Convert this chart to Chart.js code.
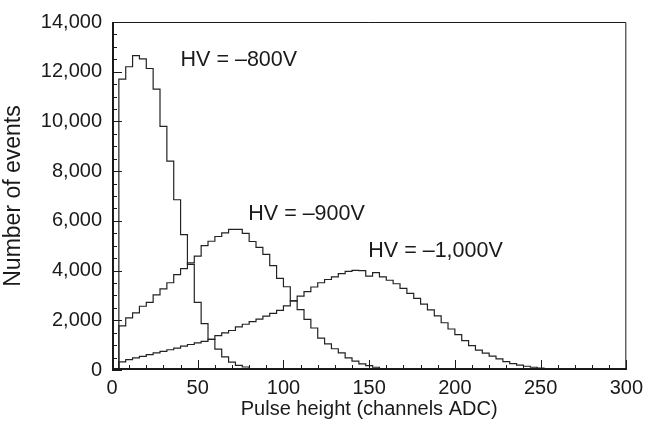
<!DOCTYPE html>
<html>
<head>
<meta charset="utf-8">
<script src="https://cdn.jsdelivr.net/npm/chart.js@4"></script>
<style>
  html, body { margin: 0; padding: 0; background: #fff; }
  #wrap { width: 649px; height: 431px; }
</style>
</head>
<body>
<div id="wrap"><canvas id="myChart"></canvas></div>
<script>
// lower edge of each 4-channel bin
var binLow = [4, 8, 12, 16, 20, 24, 28, 32, 36, 40, 44, 48, 52, 56, 60, 64, 68, 72, 76, 80,
  84, 88, 92, 96, 100, 104, 108, 112, 116, 120, 124, 128, 132, 136, 140, 144, 148, 152, 156, 160,
  164, 168, 172, 176, 180, 184, 188, 192, 196, 200, 204, 208, 212, 216, 220, 224, 228, 232, 236, 240,
  244, 248, 252, 256, 260, 264, 268, 272];
var binWidth = 4;

var hv800 = [11700, 12200, 12650, 12520, 12130, 11300, 9800, 8400, 6850, 5450,
  4250, 2720, 1865, 1230, 840, 525, 320, 190, 120, 60,
  30, 15, 5, 0, 0, 0, 0, 0, 0, 0,
  0, 0, 0, 0, 0, 0, 0, 0, 0, 0,
  0, 0, 0, 0, 0, 0, 0, 0, 0, 0,
  0, 0, 0, 0, 0, 0, 0, 0, 0, 0,
  0, 0, 0, 0, 0, 0, 0, 0];

var hv900 = [1775, 2100, 2300, 2565, 2720, 3025, 3260, 3510, 3840, 4075,
  4310, 4580, 5000, 5180, 5370, 5520, 5660, 5660, 5500, 5170,
  4930, 4650, 4200, 3690, 3350, 2780, 2430, 2040, 1690, 1280,
  1050, 855, 690, 490, 360, 250, 175, 110, 60, 35,
  20, 10, 5, 0, 0, 0, 0, 0, 0, 0,
  0, 0, 0, 0, 0, 0, 0, 0, 0, 0,
  0, 0, 0, 0, 0, 0, 0, 0];

var hv1000 = [330, 420, 490, 550, 620, 685, 750, 815, 880, 960,
  1025, 1090, 1150, 1230, 1380, 1490, 1590, 1735, 1840, 1950,
  2050, 2170, 2280, 2400, 2580, 2780, 2970, 3150, 3340, 3510,
  3640, 3745, 3880, 3970, 4010, 4000, 3775, 3920, 3750, 3610,
  3470, 3285, 3080, 2880, 2650, 2420, 2180, 1900, 1650, 1420,
  1180, 980, 800, 680, 560, 450, 340, 260, 200, 150,
  110, 80, 55, 40, 25, 15, 8, 4];

var seriesLabels = ['HV = \u2013800V', 'HV = \u2013900V', 'HV = \u20131,000V'];

var xTicks = { min: 0, max: 300, step: 50, minor: 10 };
var yTicks = { min: 0, max: 14000, step: 2000, minor: 500 };

// where the curve labels sit, in data units (left edge, vertical middle)
var notes = [
  { text: seriesLabels[0], x: 40, y: 12480 },
  { text: seriesLabels[1], x: 79.5, y: 6280 },
  { text: seriesLabels[2], x: 149.5, y: 4780 }
];

var FONT = '"Liberation Sans", Arial, Helvetica, sans-serif';
var INK = '#1a1a1a';

// outline of a histogram: up at the first edge, flat across each bin, down at the end
function histogram(counts) {
  var pts = [{ x: binLow[0], y: 0 }];
  for (var i = 0; i < counts.length; i++) {
    pts.push({ x: binLow[i], y: counts[i] });
    pts.push({ x: binLow[i] + binWidth, y: counts[i] });
  }
  pts.push({ x: binLow[binLow.length - 1] + binWidth, y: 0 });
  return pts;
}

function lineDs(label, counts) {
  return {
    label: label,
    data: histogram(counts),
    borderColor: '#222',
    borderWidth: 1.2,
    pointRadius: 0,
    fill: false,
    tension: 0
  };
}

// frame, inward tick marks (major + minor) and the curve labels
var frame = {
  id: 'frame',
  afterDatasetsDraw: function (chart) {
    var ctx = chart.ctx, a = chart.chartArea, sx = chart.scales.x, sy = chart.scales.y;
    ctx.save();
    ctx.strokeStyle = INK;
    ctx.lineWidth = 1;
    ctx.beginPath();
    for (var v = xTicks.min; v <= xTicks.max; v += xTicks.minor) {
      var px = Math.round(sx.getPixelForValue(v)) + 0.5;
      var len = v % xTicks.step === 0 ? 10 : 5;
      ctx.moveTo(px, a.bottom);
      ctx.lineTo(px, a.bottom - len);
    }
    for (var w = yTicks.min; w <= yTicks.max; w += yTicks.minor) {
      var py = Math.round(sy.getPixelForValue(w)) + 0.5;
      var l2 = w % yTicks.step === 0 ? 10 : 5;
      ctx.moveTo(a.left, py);
      ctx.lineTo(a.left + l2, py);
    }
    ctx.stroke();

    ctx.lineWidth = 1;
    ctx.beginPath();
    ctx.moveTo(a.left, a.top + 0.5);
    ctx.lineTo(a.right - 0.5, a.top + 0.5);
    ctx.lineTo(a.right - 0.5, a.bottom);
    ctx.stroke();

    ctx.lineWidth = 2;
    ctx.beginPath();
    ctx.moveTo(a.left + 1, a.top);
    ctx.lineTo(a.left + 1, a.bottom - 1);
    ctx.lineTo(a.right, a.bottom - 1);
    ctx.stroke();

    ctx.fillStyle = INK;
    ctx.font = '21.5px ' + FONT;
    ctx.textBaseline = 'middle';
    ctx.textAlign = 'left';
    notes.forEach(function (n) {
      ctx.fillText(n.text, sx.getPixelForValue(n.x), sy.getPixelForValue(n.y));
    });
    ctx.restore();
  }
};

var ctx = document.getElementById('myChart').getContext('2d');
var chart = new Chart(ctx, {
  type: 'line',
  data: {
    datasets: [
      lineDs(seriesLabels[0], hv800),
      lineDs(seriesLabels[1], hv900),
      lineDs(seriesLabels[2], hv1000)
    ]
  },
  options: {
    responsive: true,
    maintainAspectRatio: false,
    animation: false,
    devicePixelRatio: 1,
    locale: 'en-US',
    layout: { padding: { top: 15, right: 19, bottom: 0, left: 0 } },
    plugins: {
      legend: { display: false },
      tooltip: { enabled: false }
    },
    scales: {
      x: {
        type: 'linear',
        min: xTicks.min,
        max: xTicks.max,
        grid: { display: false, drawTicks: false },
        border: { display: false },
        ticks: { stepSize: xTicks.step, padding: 6, color: INK, font: { family: FONT, size: 20 }, maxRotation: 0 },
        title: { display: true, text: 'Pulse height (channels ADC)', color: INK, font: { family: FONT, size: 20 }, padding: { top: 0, bottom: 10 } },
        afterFit: function (s) { s.height = 61; }
      },
      y: {
        min: yTicks.min,
        max: yTicks.max,
        grid: { display: false, drawTicks: false },
        border: { display: false },
        ticks: { stepSize: yTicks.step, padding: 10, color: INK, font: { family: FONT, size: 20 } },
        title: { display: true, text: 'Number of events', color: INK, font: { family: FONT, size: 23 }, padding: { top: 0, bottom: 0 } },
        afterFit: function (s) { s.width = 112; }
      }
    }
  },
  plugins: [frame]
});
</script>
</body>
</html>
